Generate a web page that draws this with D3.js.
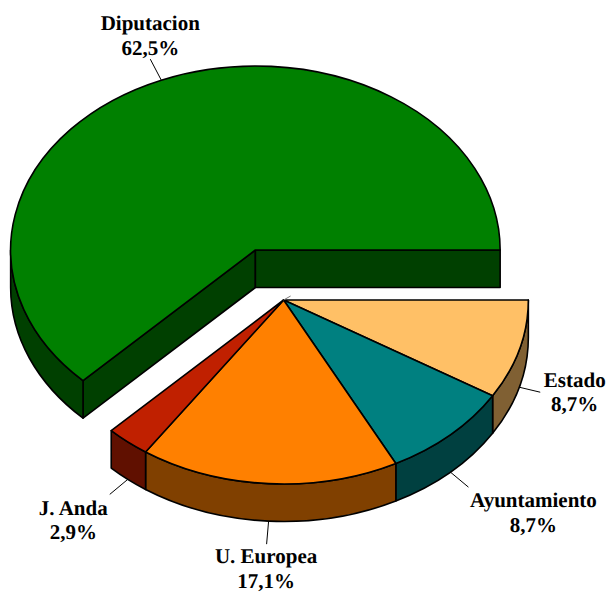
<!DOCTYPE html>
<html>
<head>
<meta charset="utf-8">
<script src="https://cdn.jsdelivr.net/npm/d3@7/dist/d3.min.js"></script>
<style>html,body{margin:0;padding:0;background:#fff}svg{display:block}</style>
</head>
<body>
<script>
// Data, clockwise from 3 o'clock
const categories = ["Estado", "Ayuntamiento", "U. Europea", "J. Anda", "Diputacion"];
const values = [8.7, 8.7, 17.1, 2.9, 62.5];
const percentLabels = ["8,7%", "8,7%", "17,1%", "2,9%", "62,5%"];
const topColors = ["#ffc066", "#008080", "#ff8000", "#c02000", "#008000"];
const sideColors = ["#806033", "#004040", "#804000", "#601000", "#004000"];

// Layout
const W = 606, H = 592, RX = 244.75, RY = 184, DEPTH = 37.5, LINE = 24.5;
const exploded = [true, true, true, true, false];
const bigCentre = [255.4, 250], smallCentre = [283.6, 300];
// leader end offset from the slice's rim, then label centre / first baseline offset from the rim
const leaderOffset = [[21, 5], [18, 15], [-2, 23], [-18, 15], [-11, -21]];
const labelOffset = [[55.5, -0.5], [83, 35], [-2.5, 42], [-54.5, 35.5], [-11, -50]];

const svg = d3.select("body").append("svg").attr("width", W).attr("height", H);

const pie = d3.pie().sort(null).startAngle(Math.PI / 2).endAngle(Math.PI * 2.5);
const arcs = pie(values);

function scales(c) {
  return {
    x: d3.scaleLinear().domain([-1, 1]).range([c[0] - RX, c[0] + RX]),
    y: d3.scaleLinear().domain([-1, 1]).range([c[1] - RY, c[1] + RY])
  };
}
const pt = (s, a, dz = 0) => [s.x(Math.sin(a)), s.y(-Math.cos(a)) + dz];

function topPath(s, d) {
  const p0 = pt(s, d.startAngle), p1 = pt(s, d.endAngle);
  const large = d.endAngle - d.startAngle > Math.PI ? 1 : 0;
  return `M${s.x(0)},${s.y(0)}L${p0}A${RX},${RY} 0 ${large} 1 ${p1}Z`;
}
function wallPath(s, a0, a1) {
  const p0 = pt(s, a0), p1 = pt(s, a1), q0 = pt(s, a0, DEPTH), q1 = pt(s, a1, DEPTH);
  return `M${p0}A${RX},${RY} 0 0 1 ${p1}L${q1}A${RX},${RY} 0 0 0 ${q0}Z`;
}
function radialWall(s, a) {
  const p = pt(s, a), c = [s.x(0), s.y(0)];
  return `M${c}L${p}L${p[0]},${p[1] + DEPTH}L${c[0]},${c[1] + DEPTH}Z`;
}

const faces = svg.append("g").attr("stroke", "#000").attr("stroke-width", 1.6).attr("stroke-linejoin", "round");

arcs.forEach((d, i) => {
  const s = scales(exploded[i] ? smallCentre : bigCentre);
  if (!exploded[i]) {
    faces.append("path").attr("d", radialWall(s, d.startAngle)).attr("fill", sideColors[i]);
    faces.append("path").attr("d", radialWall(s, d.endAngle)).attr("fill", sideColors[i]);
  }
  // outer wall: only the part facing the viewer (angles between 3 and 9 o'clock)
  const a0 = Math.max(d.startAngle, Math.PI / 2), a1 = Math.min(d.endAngle, Math.PI * 1.5);
  faces.append("path").attr("d", wallPath(s, a0, a1)).attr("fill", sideColors[i]);
  faces.append("path").attr("d", topPath(s, d)).attr("fill", topColors[i]);
});

// small grey tick at the exploded pie's apex
const sc = scales(smallCentre);
svg.append("line")
  .attr("x1", sc.x(0)).attr("y1", sc.y(0))
  .attr("x2", sc.x(0) + 7).attr("y2", sc.y(0) - 4)
  .attr("stroke", "#777").attr("stroke-width", 1);

// leaders and labels
arcs.forEach((d, i) => {
  const s = scales(exploded[i] ? smallCentre : bigCentre);
  const mid = (d.startAngle + d.endAngle) / 2;
  const rim = exploded[i] ? pt(s, mid, DEPTH) : pt(s, mid);
  svg.append("line")
    .attr("x1", rim[0]).attr("y1", rim[1])
    .attr("x2", rim[0] + leaderOffset[i][0]).attr("y2", rim[1] + leaderOffset[i][1])
    .attr("stroke", "#000").attr("stroke-width", 1);
  const t = svg.append("text")
    .attr("text-anchor", "middle")
    .attr("font-family", "'Liberation Serif', serif")
    .attr("font-weight", "bold")
    .attr("font-size", 21)
    .attr("text-rendering", "geometricPrecision")
    .attr("fill", "#000");
  const lx = rim[0] + labelOffset[i][0], ly = rim[1] + labelOffset[i][1];
  t.append("tspan").attr("x", lx).attr("y", ly).text(categories[i]);
  t.append("tspan").attr("x", lx).attr("y", ly + LINE).text(percentLabels[i]);
});
</script>
</body>
</html>
